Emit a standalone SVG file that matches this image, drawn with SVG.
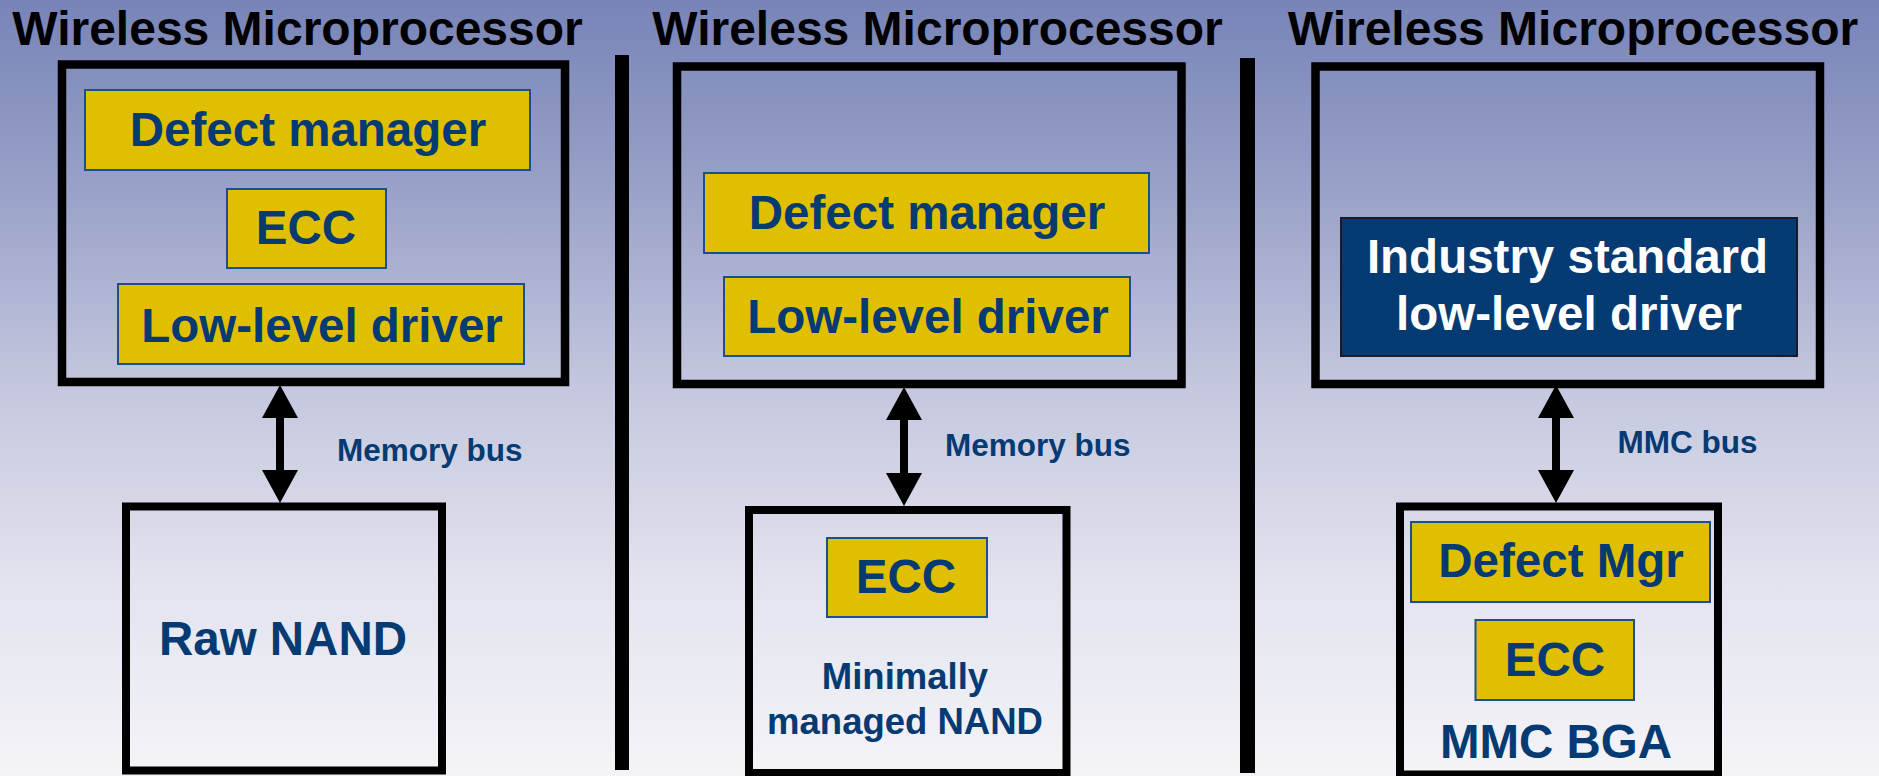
<svg xmlns="http://www.w3.org/2000/svg" width="1879" height="776" viewBox="0 0 1879 776">
<defs>
<linearGradient id="bg" x1="0" y1="0" x2="0" y2="1">
<stop offset="0" stop-color="#7884B8"/>
<stop offset="0.25" stop-color="#9AA2C8"/>
<stop offset="0.5" stop-color="#C4C7DE"/>
<stop offset="0.75" stop-color="#E2E3EE"/>
<stop offset="1" stop-color="#F4F4F8"/>
</linearGradient>
<marker id="head" markerUnits="userSpaceOnUse" markerWidth="33" markerHeight="36" refX="0" refY="18" orient="auto-start-reverse" viewBox="0 0 33 36">
<path d="M0,0 L33,18 L0,36 Z" fill="#000"/>
</marker>
<style>
.title{font-family:"Liberation Sans",Arial,sans-serif;font-weight:bold;font-size:48px;fill:#000;text-anchor:middle}
.frame{fill:none;stroke:#000;stroke-width:8.5}
.chip{fill:none;stroke:#000;stroke-width:8}
.gold{fill:#E0BF00;stroke:#1F4E8C;stroke-width:2}
.navy{fill:#053A72;stroke:#1A1A2A;stroke-width:2}
.lbl{font-family:"Liberation Sans",Arial,sans-serif;font-weight:bold;font-size:47.5px;fill:#063A73;text-anchor:middle}
.wlbl{font-family:"Liberation Sans",Arial,sans-serif;font-weight:bold;font-size:47.5px;fill:#FFFFFF;text-anchor:middle}
.mid{font-family:"Liberation Sans",Arial,sans-serif;font-weight:bold;font-size:36.5px;fill:#063A73;text-anchor:middle}
.bus{font-family:"Liberation Sans",Arial,sans-serif;font-weight:bold;font-size:31.5px;fill:#063A73}
.sep{fill:#000}
.arrow{stroke:#000;stroke-width:8;marker-start:url(#head);marker-end:url(#head)}
</style>
</defs>
<rect x="0" y="0" width="1879" height="776" fill="url(#bg)"/>

<g id="separators">
<rect class="sep" x="615" y="55" width="14" height="715"/>
<rect class="sep" x="1240" y="58" width="15" height="715"/>
</g>

<g id="titles">
<text class="title" x="297.5" y="45">Wireless Microprocessor</text>
<text class="title" x="937.5" y="45">Wireless Microprocessor</text>
<text class="title" x="1573" y="45">Wireless Microprocessor</text>
</g>

<g id="cpu1">
<rect class="frame" x="62" y="64.5" width="503" height="317.5"/>
<g id="cpu1-defect"><rect class="gold" x="85" y="90" width="445" height="80"/><text class="lbl" x="308" y="146">Defect manager</text></g>
<g id="cpu1-ecc"><rect class="gold" x="227" y="189" width="159" height="79"/><text class="lbl" x="306" y="244">ECC</text></g>
<g id="cpu1-driver"><rect class="gold" x="118" y="284" width="406" height="80"/><text class="lbl" x="322" y="342">Low-level driver</text></g>
</g>

<g id="nand1">
<rect class="chip" x="126" y="506.5" width="316" height="264"/>
<text class="lbl" x="283" y="655">Raw NAND</text>
</g>

<g id="cpu2">
<rect class="frame" x="677" y="66.5" width="504.5" height="317.5"/>
<g id="cpu2-defect"><rect class="gold" x="704" y="173" width="445" height="80"/><text class="lbl" x="927" y="229">Defect manager</text></g>
<g id="cpu2-driver"><rect class="gold" x="724" y="277" width="406" height="79"/><text class="lbl" x="928" y="333">Low-level driver</text></g>
</g>

<g id="nand2">
<rect class="chip" x="749" y="510" width="317.5" height="263"/>
<g id="nand2-ecc"><rect class="gold" x="827" y="538" width="160" height="79"/><text class="lbl" x="906" y="593">ECC</text></g>
<text class="mid" x="905" y="689">Minimally</text>
<text class="mid" x="905" y="734">managed NAND</text>
</g>

<g id="cpu3">
<rect class="frame" x="1315.5" y="66.5" width="504.5" height="317.5"/>
<g id="cpu3-driver"><rect class="navy" x="1341" y="218" width="456" height="138"/>
<text class="wlbl" x="1567.5" y="273">Industry standard</text>
<text class="wlbl" x="1569" y="330">low-level driver</text></g>
</g>

<g id="mmc">
<rect class="chip" x="1400" y="506.5" width="318" height="268"/>
<g id="mmc-defect"><rect class="gold" x="1411" y="522" width="299" height="80"/><text class="lbl" x="1561" y="577">Defect Mgr</text></g>
<g id="mmc-ecc"><rect class="gold" x="1475.5" y="620" width="158.5" height="80"/><text class="lbl" x="1555" y="676">ECC</text></g>
<text class="lbl" x="1556" y="758">MMC BGA</text>
</g>

<g id="connectors">
<line class="arrow" x1="280" y1="418" x2="280" y2="470"/>
<line class="arrow" x1="904" y1="420" x2="904" y2="473"/>
<line class="arrow" x1="1556" y1="418" x2="1556" y2="470"/>
<text class="bus" x="337" y="461">Memory bus</text>
<text class="bus" x="945" y="456">Memory bus</text>
<text class="bus" x="1617.5" y="453">MMC bus</text>
</g>
</svg>
